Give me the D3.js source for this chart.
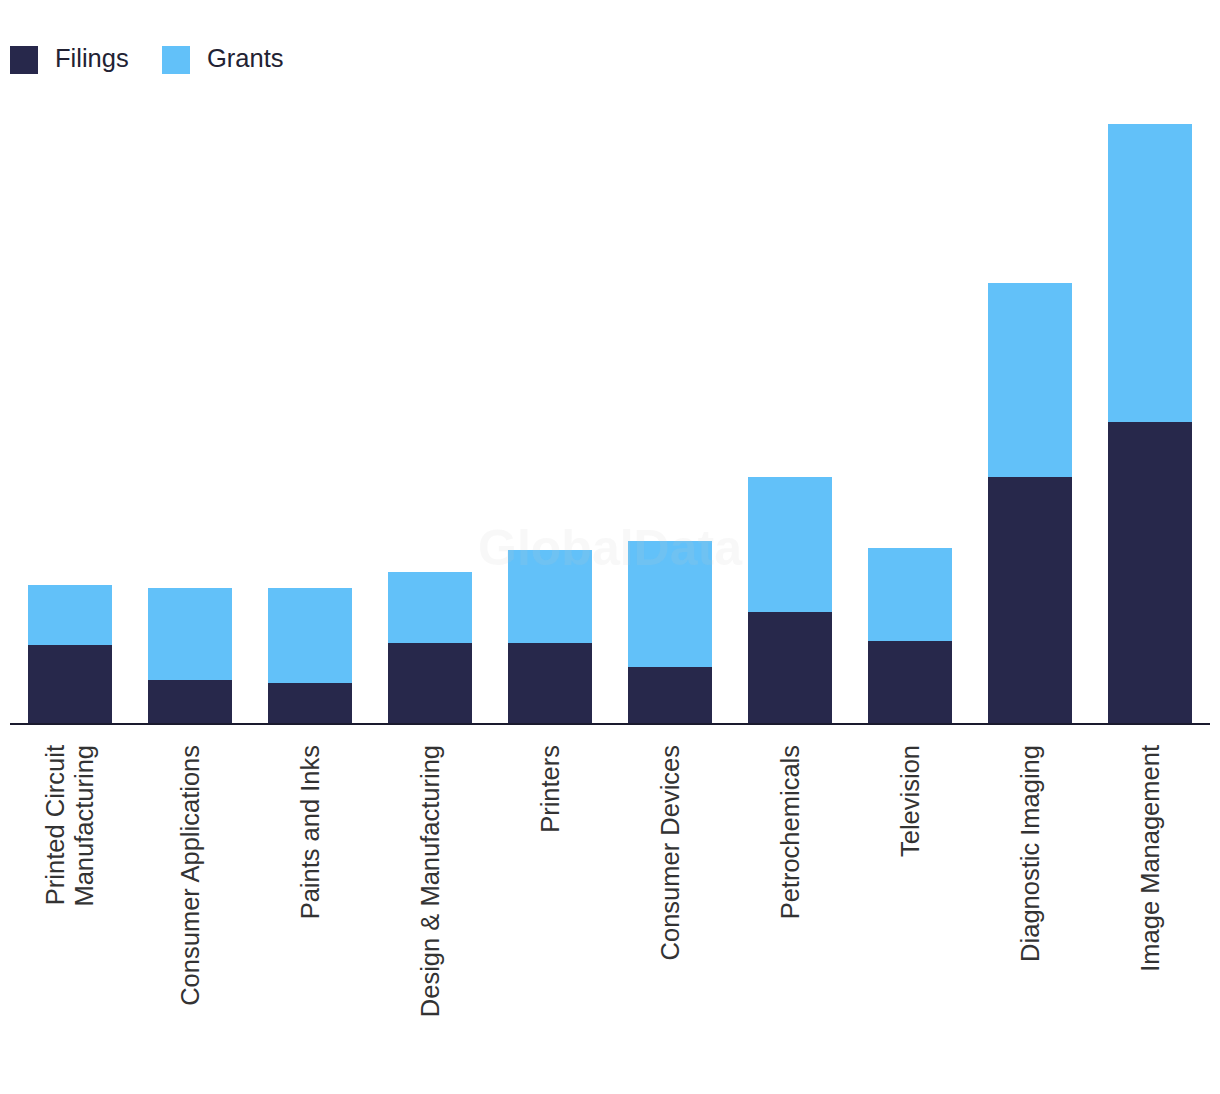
<!DOCTYPE html>
<html>
<head>
<meta charset="utf-8">
<script src="https://cdn.jsdelivr.net/npm/d3@7"></script>
<style>
  html, body { margin: 0; padding: 0; background: #fff; }
  svg { display: block; }
</style>
</head>
<body>
<svg id="chart" width="1220" height="1094"></svg>
<script>
const categories = [
  ["Printed Circuit", "Manufacturing"],
  ["Consumer Applications"],
  ["Paints and Inks"],
  ["Design & Manufacturing"],
  ["Printers"],
  ["Consumer Devices"],
  ["Petrochemicals"],
  ["Television"],
  ["Diagnostic Imaging"],
  ["Image Management"]
];
const filings = [78, 43, 40, 80, 80, 56, 111, 82, 246, 301];
const grants  = [60, 92, 95, 71, 93, 126, 135, 93, 194, 298];
const seriesNames = ["Filings", "Grants"];
const colors = ["#27284b", "#62c1f9"];

const svg = d3.select("#chart");
const left = 10, right = 1210, baseline = 723;

const keys = categories.map(c => c.join(" "));
const x = d3.scaleBand().domain(keys).range([left, right]).paddingInner(0.3).paddingOuter(0.15);
const y = d3.scaleLinear().domain([0, 600]).range([baseline, 123]);

const data = keys.map((k, i) => ({ key: k, Filings: filings[i], Grants: grants[i] }));
const stack = d3.stack().keys(seriesNames)(data);

svg.append("g").selectAll("g").data(stack).join("g")
  .attr("fill", (d, i) => colors[i])
  .selectAll("rect").data(d => d).join("rect")
  .attr("x", d => x(d.data.key))
  .attr("width", x.bandwidth())
  .attr("y", d => y(d[1]))
  .attr("height", d => y(d[0]) - y(d[1]));

// watermark
svg.append("text")
  .attr("x", 610).attr("y", 565)
  .attr("text-anchor", "middle")
  .attr("font-family", "Liberation Sans, Arial, sans-serif")
  .attr("font-weight", "bold")
  .attr("font-size", 50)
  .attr("fill", "#c8c8c8")
  .attr("fill-opacity", 0.13)
  .text("GlobalData");

// x axis
const xAxis = d3.axisBottom(x).tickSize(0).tickFormat("");
const ax = svg.append("g").attr("transform", `translate(0,${baseline + 1})`).call(xAxis);
ax.select(".domain").attr("stroke", "#1a1a2e").attr("stroke-width", 2).attr("d", `M${left},0H${right}`);

// category labels
const labG = svg.append("g")
  .attr("font-family", "Liberation Sans, Arial, sans-serif")
  .attr("font-size", 25.5)
  .attr("fill", "#333333");
categories.forEach((lines, i) => {
  const cx = x(keys[i]) + x.bandwidth() / 2;
  const n = lines.length;
  const t = labG.append("text")
    .attr("transform", `translate(${cx},745) rotate(-90)`)
    .attr("text-anchor", "end");
  lines.forEach((ln, j) => {
    const off = (j - (n - 1) / 2) * 29;
    t.append("tspan").attr("x", 0).attr("y", off).attr("dy", "0.35em").text(ln);
  });
});

// legend
const legend = svg.append("g")
  .attr("font-family", "Liberation Sans, Arial, sans-serif")
  .attr("font-size", 25.5)
  .attr("fill", "#222233");
const legX = [10, 162];
seriesNames.forEach((s, i) => {
  legend.append("rect").attr("x", legX[i]).attr("y", 46).attr("width", 28).attr("height", 28).attr("fill", colors[i]);
  legend.append("text").attr("x", legX[i] + 45).attr("y", 67).text(s);
});
</script>
</body>
</html>
